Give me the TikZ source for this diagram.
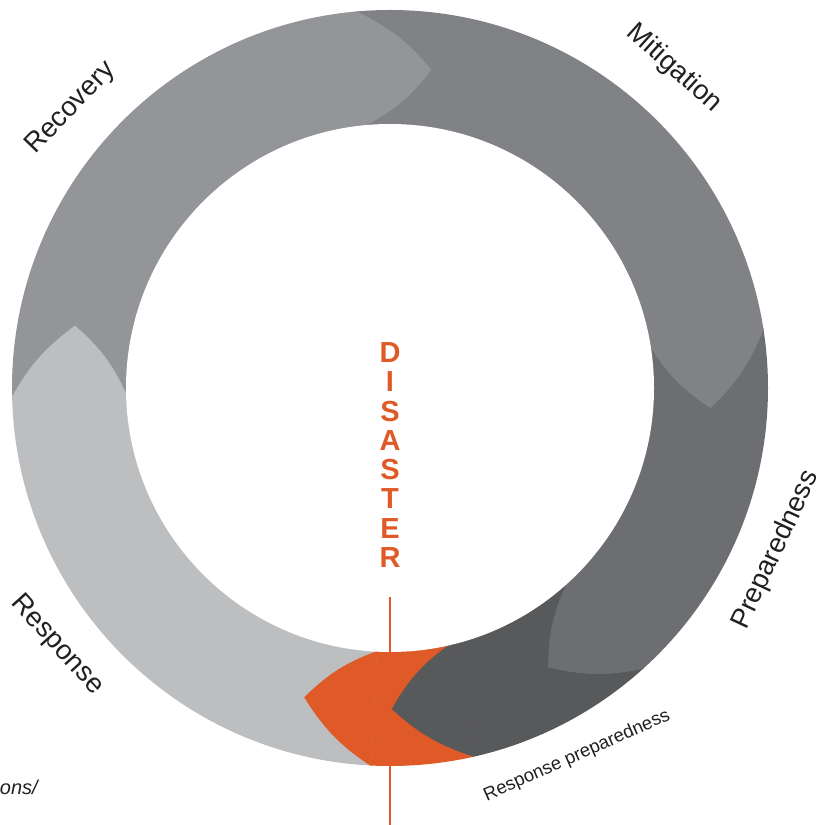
\documentclass[tikz,border=0pt]{standalone}
\usepackage{fontspec}
\setmainfont{Liberation Sans}
\usetikzlibrary{calc}
\definecolor{recC}{HTML}{939598}
\definecolor{mitC}{HTML}{808285}
\definecolor{prepC}{HTML}{6D6E71}
\definecolor{rprepC}{HTML}{58595B}
\definecolor{orC}{HTML}{E05A27}
\definecolor{respC}{HTML}{BCBEC0}
\definecolor{labelC}{HTML}{231F20}
\begin{document}
\begin{tikzpicture}[x=1pt,y=1pt,
  lbl/.style={font=\fontsize{27.5}{30}\selectfont, text=labelC, inner sep=0pt},
  lblsmall/.style={font=\fontsize{18.5}{20}\selectfont, text=labelC, inner sep=0pt},
  chev/.style={line width=0.8pt},
  letter/.style={font=\fontsize{29}{30}\selectfont\bfseries, text=orC, inner sep=0pt, anchor=base},
]
\useasboundingbox (0,0) rectangle (819,825);
\coordinate (C) at (390,437);
\foreach \n/\b in {1/181.4,2/95.2,3/9.0,4/-47.9,5/-77.1,6/-92.9}{
  \pgfmathsetmacro\tb{\b-12.5}
  \coordinate (I\n) at ($(C)+(\b:264)$);
  \coordinate (O\n) at ($(C)+(\b:378)$);
  \coordinate (T\n) at ($(C)+(\tb:321)$);
  \coordinate (F\n) at ($(C)+(\b:800)$);
}
\begin{scope}
  \clip (C) circle[radius=378pt];
  % base wedges
  \fill[recC]   (C) -- (F1) -- (F2) -- cycle;
  \fill[mitC]   (C) -- (F2) -- (F3) -- cycle;
  \fill[prepC]  (C) -- (F3) -- (F4) -- cycle;
  \fill[rprepC] (C) -- (F4) -- (F5) -- cycle;
  \fill[orC]    (C) -- (F5) -- (F6) -- cycle;
  \fill[respC]  (C) -- (F6) -- (F1) -- cycle;
  % arrow tips
  \filldraw[chev, respC]  (O1) to[bend left=12] (T1) to[bend left=12] (I1) -- cycle;
  \filldraw[chev, recC]   (O2) to[bend left=12] (T2) to[bend left=12] (I2) -- cycle;
  \filldraw[chev, mitC]   (O3) to[bend left=12] (T3) to[bend left=12] (I3) -- cycle;
  \filldraw[chev, prepC]  (O4) to[bend left=12] (T4) to[bend left=12] (I4) -- cycle;
  \filldraw[chev, rprepC] (O5) to[bend left=12] (T5) to[bend left=12] (I5) -- cycle;
  \filldraw[chev, orC]    (O6) to[bend left=12] (T6) to[bend left=12] (I6) -- cycle;
\end{scope}
\fill[white] (C) circle[radius=264pt];
% vertical line
\coordinate (lt) at (390,228);
\coordinate (lb) at (390,0);
\draw[orC, line width=1.8pt] (lt) -- (lb);
% DISASTER
\foreach \L [count=\k from 0] in {D,I,S,A,S,T,E,R}{
  \pgfmathsetmacro\yy{825-(362.5+29.3*\k)}
  \node[letter] (dis\k) at (390,\yy) {\L};
}
% labels
\node[lbl, rotate=46]  (recovery) at (71,717) {Recovery};
\node[lbl, rotate=-42] (mitigation) at (674,756.5) {Mitigation};
\node[lbl, rotate=65]  (preparedness) at (776,275) {Preparedness};
\node[lbl, rotate=-48] (response) at (57,180) {Response};
\node[lblsmall, rotate=24] (rprep) at (577,69) {Response preparedness};
\node[font=\fontsize{20}{22}\selectfont\itshape, text=labelC, anchor=base east, inner sep=0pt] (src) at (38,30) {ons/};
\end{tikzpicture}
\end{document}
